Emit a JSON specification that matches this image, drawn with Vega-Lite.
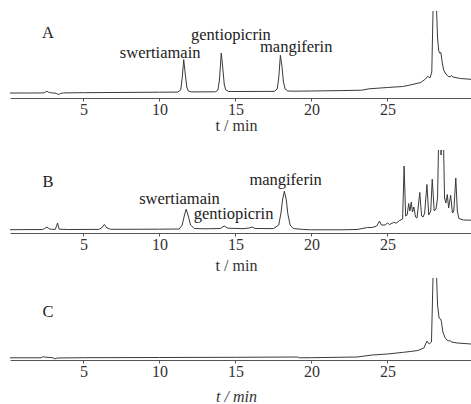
{
  "$schema": "https://vega.github.io/schema/vega-lite/v6.json",
  "padding": {"left": 10, "top": 11, "right": 0, "bottom": 0},
  "background": "white",
  "config": {
    "view": {"stroke": null},
    "font": "Liberation Serif",
    "axis": {"grid": false, "domainColor": "#555", "tickColor": "#555", "tickSize": 3, "labelFont": "Liberation Serif", "labelFontSize": 16, "labelColor": "#333", "labelPadding": 0, "titleFont": "Liberation Serif", "titleFontSize": 16, "titleFontWeight": "normal", "titleColor": "#333"}
  },
  "datasets": {
    "a": [
      {"t":0.17,"s":5.0},{"t":1.5,"s":5.0},{"t":2.4,"s":5.1},{"t":2.5,"s":6},{"t":2.6,"s":6.8},{"t":2.7,"s":5.8},{"t":2.85,"s":5.2},{"t":3.2,"s":4.8},{"t":3.3,"s":3.8},{"t":3.4,"s":3.6},{"t":3.5,"s":4.6},{"t":3.7,"s":5.1},{"t":5,"s":5.3},{"t":8,"s":5.6},{"t":10,"s":5.8},{"t":11.2,"s":5.9},{"t":11.4,"s":8},{"t":11.5,"s":20},{"t":11.6,"s":38.4},{"t":11.7,"s":24},{"t":11.8,"s":11},{"t":11.9,"s":7},{"t":12.1,"s":6.1},{"t":13.7,"s":6.2},{"t":13.85,"s":8},{"t":13.95,"s":18},{"t":14.07,"s":45},{"t":14.17,"s":30},{"t":14.27,"s":13},{"t":14.37,"s":8},{"t":14.55,"s":6.5},{"t":17.55,"s":6.6},{"t":17.75,"s":9},{"t":17.85,"s":20},{"t":17.96,"s":42.7},{"t":18.06,"s":32},{"t":18.16,"s":16},{"t":18.27,"s":9},{"t":18.45,"s":7},{"t":18.8,"s":6.8},{"t":20,"s":7},{"t":22,"s":7.4},{"t":23.3,"s":7.8},{"t":23.8,"s":9.2},{"t":25,"s":10.5},{"t":26,"s":11.5},{"t":26.5,"s":13},{"t":27.2,"s":15.5},{"t":27.5,"s":19},{"t":27.65,"s":21.7},{"t":27.8,"s":20},{"t":27.92,"s":26},{"t":28.0,"s":86},{"t":28.08,"s":130},{"t":28.16,"s":130},{"t":28.24,"s":86},{"t":28.3,"s":60},{"t":28.38,"s":47},{"t":28.45,"s":44.7},{"t":28.52,"s":45.5},{"t":28.6,"s":36},{"t":28.7,"s":28},{"t":28.85,"s":24},{"t":29.0,"s":21.5},{"t":29.15,"s":21.3},{"t":29.22,"s":22.5},{"t":29.3,"s":21},{"t":29.8,"s":19.5},{"t":30.5,"s":18.7}
    ],
    "b": [
      {"t":0.17,"s":3.3},{"t":2.3,"s":3.5},{"t":2.45,"s":4.5},{"t":2.6,"s":6},{"t":2.75,"s":4.2},{"t":2.9,"s":3.7},{"t":3.15,"s":3.6},{"t":3.3,"s":10},{"t":3.4,"s":3.8},{"t":4,"s":3.5},{"t":6.0,"s":3.6},{"t":6.2,"s":5},{"t":6.38,"s":8.5},{"t":6.55,"s":5},{"t":6.8,"s":3.7},{"t":10,"s":3.8},{"t":11.3,"s":4},{"t":11.5,"s":8},{"t":11.65,"s":18},{"t":11.76,"s":23.8},{"t":11.9,"s":17},{"t":12.05,"s":8},{"t":12.3,"s":4.5},{"t":13,"s":4.2},{"t":14.0,"s":4.5},{"t":14.27,"s":7},{"t":14.5,"s":4.8},{"t":15.5,"s":4.3},{"t":15.9,"s":5},{"t":16.09,"s":6},{"t":16.3,"s":4.5},{"t":17.5,"s":4.4},{"t":17.85,"s":8},{"t":18.0,"s":20},{"t":18.1,"s":33},{"t":18.22,"s":41.8},{"t":18.35,"s":33},{"t":18.45,"s":19},{"t":18.6,"s":8},{"t":18.8,"s":4.5},{"t":19.5,"s":3.5},{"t":20,"s":3.2},{"t":22,"s":3.2},{"t":23,"s":3.5},{"t":23.7,"s":5.5},{"t":24.0,"s":5.5},{"t":24.3,"s":7},{"t":24.48,"s":12},{"t":24.6,"s":8},{"t":24.85,"s":8},{"t":25.0,"s":10},{"t":25.15,"s":8.5},{"t":25.4,"s":10.5},{"t":25.6,"s":10},{"t":25.8,"s":12.5},{"t":26.0,"s":14},{"t":26.1,"s":67},{"t":26.2,"s":17},{"t":26.3,"s":18},{"t":26.4,"s":29.5},{"t":26.48,"s":22},{"t":26.57,"s":31},{"t":26.65,"s":21},{"t":26.74,"s":26},{"t":26.85,"s":16},{"t":26.95,"s":15},{"t":27.13,"s":40.5},{"t":27.25,"s":17},{"t":27.35,"s":16},{"t":27.45,"s":20},{"t":27.6,"s":48.5},{"t":27.72,"s":18},{"t":27.85,"s":22},{"t":27.95,"s":53.8},{"t":28.08,"s":22},{"t":28.2,"s":24},{"t":28.3,"s":35},{"t":28.38,"s":100},{"t":28.47,"s":120},{"t":28.53,"s":78},{"t":28.6,"s":120},{"t":28.68,"s":100},{"t":28.76,"s":35},{"t":28.85,"s":30},{"t":28.94,"s":38.5},{"t":29.03,"s":25},{"t":29.16,"s":37.8},{"t":29.28,"s":20},{"t":29.37,"s":22},{"t":29.5,"s":55},{"t":29.6,"s":22},{"t":29.7,"s":14.5},{"t":30,"s":13},{"t":30.5,"s":12.8}
    ],
    "c": [
      {"t":0.17,"s":2.2},{"t":2.2,"s":2.2},{"t":2.35,"s":3.3},{"t":2.5,"s":2.8},{"t":2.8,"s":2.5},{"t":3.0,"s":2.2},{"t":3.1,"s":1.2},{"t":3.3,"s":2},{"t":5,"s":2.3},{"t":10,"s":2.5},{"t":15,"s":2.7},{"t":19.1,"s":3},{"t":19.2,"s":2.2},{"t":20,"s":2.3},{"t":23,"s":3},{"t":23.5,"s":4},{"t":24,"s":5},{"t":25,"s":6},{"t":26,"s":7.6},{"t":26.5,"s":8.5},{"t":27,"s":9.5},{"t":27.4,"s":12},{"t":27.6,"s":19},{"t":27.75,"s":16},{"t":27.9,"s":18},{"t":28.0,"s":82},{"t":28.08,"s":130},{"t":28.16,"s":130},{"t":28.24,"s":82},{"t":28.3,"s":55},{"t":28.4,"s":42},{"t":28.5,"s":41},{"t":28.55,"s":38.5},{"t":28.65,"s":28},{"t":28.8,"s":22},{"t":29.0,"s":19},{"t":29.1,"s":19.8},{"t":29.2,"s":18},{"t":29.6,"s":17},{"t":30.5,"s":16}
    ],
    "labels": [
      {"panel":"A","t":2.67,"s":64.7,"label":"A"},
      {"panel":"A","t":10.05,"s":44.7,"label":"swertiamain"},
      {"panel":"A","t":14.7,"s":63.5,"label":"gentiopicrin"},
      {"panel":"A","t":19.0,"s":50.8,"label":"mangiferin"},
      {"panel":"B","t":2.67,"s":51.1,"label":"B"},
      {"panel":"B","t":11.32,"s":34.5,"label":"swertiamain"},
      {"panel":"B","t":14.88,"s":18.8,"label":"gentiopicrin"},
      {"panel":"B","t":18.3,"s":52.8,"label":"mangiferin"},
      {"panel":"C","t":2.67,"s":47.6,"label":"C"}
    ]
  },
  "spacing": 17,
  "vconcat": [
    {
      "width": 461, "height": 87,
      "layer": [
        {
          "data": {"name": "a"},
          "mark": {"type": "line", "clip": true, "strokeWidth": 1, "color": "#3a3a3a"},
          "encoding": {
            "x": {"field": "t", "type": "quantitative", "scale": {"domain": [0.17, 30.5], "nice": false, "zero": false}, "axis": {"values": [5, 10, 15, 20, 25], "title": "t / min", "titlePadding": 0, "titleX": 226}},
            "y": {"field": "s", "type": "quantitative", "scale": {"domain": [0, 87], "nice": false, "zero": false}, "axis": null}
          }
        },
        {
          "data": {"name": "labels"},
          "transform": [{"filter": "datum.panel === 'A'"}],
          "mark": {"type": "text", "fontSize": 16.5, "font": "Liberation Serif", "color": "#222", "baseline": "middle", "align": "center"},
          "encoding": {
            "x": {"field": "t", "type": "quantitative"},
            "y": {"field": "s", "type": "quantitative"},
            "text": {"field": "label"}
          }
        }
      ]
    },
    {
      "spacing": 5,
      "vconcat": [
        {
          "width": 461, "height": 83,
          "layer": [
            {
              "data": {"name": "b"},
              "mark": {"type": "line", "clip": true, "strokeWidth": 1, "color": "#3a3a3a"},
              "encoding": {
                "x": {"field": "t", "type": "quantitative", "scale": {"domain": [0.17, 30.5], "nice": false, "zero": false}, "axis": {"values": [5, 10, 15, 20, 25], "title": "t / min", "titlePadding": 5, "titleX": 226}},
                "y": {"field": "s", "type": "quantitative", "scale": {"domain": [0, 83], "nice": false, "zero": false}, "axis": null}
              }
            },
            {
              "data": {"name": "labels"},
              "transform": [{"filter": "datum.panel === 'B'"}],
              "mark": {"type": "text", "fontSize": 16.5, "font": "Liberation Serif", "color": "#222", "baseline": "middle", "align": "center"},
              "encoding": {
                "x": {"field": "t", "type": "quantitative"},
                "y": {"field": "s", "type": "quantitative"},
                "text": {"field": "label"}
              }
            }
          ]
        },
        {
          "width": 461, "height": 82,
          "layer": [
            {
              "data": {"name": "c"},
              "mark": {"type": "line", "clip": true, "strokeWidth": 1, "color": "#3a3a3a"},
              "encoding": {
                "x": {"field": "t", "type": "quantitative", "scale": {"domain": [0.17, 30.5], "nice": false, "zero": false}, "axis": {"values": [5, 10, 15, 20, 25], "title": "t / min", "titleFontStyle": "italic", "titlePadding": 9, "titleX": 226}},
                "y": {"field": "s", "type": "quantitative", "scale": {"domain": [0, 82], "nice": false, "zero": false}, "axis": null}
              }
            },
            {
              "data": {"name": "labels"},
              "transform": [{"filter": "datum.panel === 'C'"}],
              "mark": {"type": "text", "fontSize": 16.5, "font": "Liberation Serif", "color": "#222", "baseline": "middle", "align": "center"},
              "encoding": {
                "x": {"field": "t", "type": "quantitative"},
                "y": {"field": "s", "type": "quantitative"},
                "text": {"field": "label"}
              }
            }
          ]
        }
      ]
    }
  ]
}
